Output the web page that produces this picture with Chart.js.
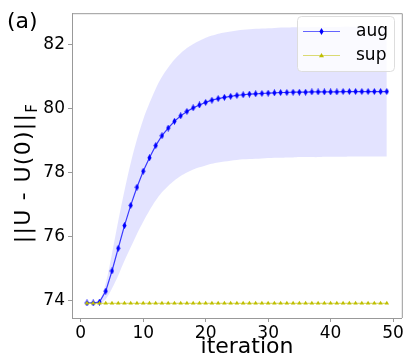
<!DOCTYPE html>
<html>
<head>
<meta charset="utf-8">
<script src="https://cdn.jsdelivr.net/npm/chart.js@4/dist/chart.umd.min.js"></script>
<style>
html,body{margin:0;padding:0;background:#fff;}
#wrap{width:407px;height:358px;position:relative;}
</style>
</head>
<body>
<div id="wrap"><canvas id="c" width="407" height="358"></canvas></div>
<script>
const iterations = [1,2,3,4,5,6,7,8,9,10,11,12,13,14,15,16,17,18,19,20,21,22,23,24,25,26,27,28,29,30,31,32,33,34,35,36,37,38,39,40,41,42,43,44,45,46,47,48,49];
const augMean = [73.92,73.92,73.95,74.29,74.92,75.63,76.34,76.97,77.54,78.04,78.46,78.84,79.15,79.39,79.60,79.77,79.91,80.02,80.11,80.19,80.26,80.31,80.35,80.38,80.41,80.43,80.45,80.46,80.47,80.48,80.49,80.50,80.50,80.51,80.51,80.51,80.52,80.52,80.52,80.52,80.52,80.53,80.53,80.53,80.53,80.53,80.53,80.53,80.53];
const augUpper = [73.92,73.93,74.00,74.54,75.47,76.48,77.44,78.30,79.04,79.66,80.17,80.62,80.99,81.28,81.53,81.73,81.89,82.02,82.12,82.21,82.28,82.34,82.38,82.41,82.44,82.46,82.48,82.49,82.50,82.51,82.52,82.53,82.53,82.54,82.54,82.54,82.55,82.55,82.55,82.55,82.55,82.56,82.56,82.56,82.56,82.56,82.56,82.56,82.56];
const augLower = [73.92,73.91,73.90,74.04,74.37,74.78,75.24,75.66,76.08,76.46,76.81,77.12,77.38,77.58,77.75,77.89,78.00,78.09,78.16,78.22,78.27,78.31,78.34,78.37,78.39,78.41,78.42,78.43,78.44,78.45,78.46,78.46,78.47,78.47,78.48,78.48,78.48,78.48,78.49,78.49,78.49,78.49,78.50,78.50,78.50,78.50,78.50,78.50,78.50];
const supValues = [73.91,73.91,73.91,73.91,73.91,73.91,73.91,73.91,73.91,73.91,73.91,73.91,73.91,73.91,73.91,73.91,73.91,73.91,73.91,73.91,73.91,73.91,73.91,73.91,73.91,73.91,73.91,73.91,73.91,73.91,73.91,73.91,73.91,73.91,73.91,73.91,73.91,73.91,73.91,73.91,73.91,73.91,73.91,73.91,73.91,73.91,73.91,73.91,73.91];
const xTicks = [0,10,20,30,40,50];
const yTicks = [74,76,78,80,82];
const seriesNames = ['aug','sup'];

const FONT = "'DejaVu Sans', sans-serif";
const BLUE = '#0000ff';
const YEL = '#bfbf00';

function thinDiamond(color){
  const c = document.createElement('canvas');
  c.width = 5; c.height = 7;
  const g = c.getContext('2d');
  g.fillStyle = color;
  g.beginPath();
  g.moveTo(2.5,0); g.lineTo(4.6,3.5); g.lineTo(2.5,7); g.lineTo(0.4,3.5); g.closePath();
  g.fill();
  return c;
}
const diamond = thinDiamond(BLUE);

function pts(ys){ return iterations.map((x,i)=>({x:x,y:ys[i]})); }

const deco = {
  id:'deco',
  afterDraw(chart){
    const ctx = chart.ctx, a = chart.chartArea;
    ctx.save();
    ctx.strokeStyle = '#999'; ctx.lineWidth = 1;
    ctx.beginPath();
    ctx.moveTo(a.left, a.top+0.5); ctx.lineTo(a.right+0.5, a.top+0.5); ctx.lineTo(a.right+0.5, a.bottom);
    ctx.stroke();
    ctx.fillStyle = '#000';
    ctx.font = '22px ' + FONT;
    ctx.textAlign = 'left'; ctx.textBaseline = 'middle';
    ctx.fillText('(a)', 7, 22);
    ctx.textAlign = 'center';
    ctx.font = '22px ' + FONT;
    ctx.fillText('iteration', 247, 347);
    ctx.save();
    ctx.translate(24, 178);
    ctx.rotate(-Math.PI/2);
    ctx.font = '22px ' + FONT;
    ctx.letterSpacing = '1.3px';
    const main = '||U - U(0)||';
    const w = ctx.measureText(main).width;
    ctx.textAlign = 'center'; ctx.textBaseline = 'middle';
    ctx.fillText(main, 0, 0);
    ctx.letterSpacing = '0px';
    ctx.font = '15px ' + FONT;
    ctx.textAlign = 'left';
    ctx.fillText('F', w/2 + 0, 9);
    ctx.restore();
    const lx = 297.5, ly = 16.5, lw = 97, lh = 55;
    ctx.beginPath();
    ctx.roundRect(lx, ly, lw, lh, 4);
    ctx.fillStyle = 'rgba(255,255,255,0.8)';
    ctx.fill();
    ctx.strokeStyle = '#dddddd';
    ctx.stroke();
    const items = [
      {name: seriesNames[0], color: 'rgba(0,0,255,0.6)', mk: 'd', y: 31.5},
      {name: seriesNames[1], color: 'rgba(191,191,0,0.55)', mk: 't', y: 55.5}
    ];
    items.forEach(it=>{
      ctx.strokeStyle = it.color; ctx.lineWidth = 1.2;
      ctx.beginPath(); ctx.moveTo(303, it.y); ctx.lineTo(340, it.y); ctx.stroke();
      if (it.mk === 'd') {
        ctx.drawImage(diamond, 321.5-2.5, it.y-3.5);
      } else {
        ctx.fillStyle = YEL;
        ctx.beginPath(); ctx.moveTo(321.5, it.y-2.6); ctx.lineTo(324, it.y+1.8); ctx.lineTo(319, it.y+1.8); ctx.closePath(); ctx.fill();
      }
      ctx.fillStyle = '#000';
      ctx.font = '17px ' + FONT;
      ctx.textAlign = 'left'; ctx.textBaseline = 'middle';
      ctx.fillText(it.name, 356, it.y);
    });
    ctx.restore();
  }
};

new Chart(document.getElementById('c'), {
  type: 'line',
  data: {
    datasets: [
      {label:'sup', data: pts(supValues), borderColor: 'rgba(191,191,0,0.7)', borderWidth: 1, pointStyle: 'triangle', pointRadius: 2.6, pointBackgroundColor: YEL, pointBorderColor: YEL, pointBorderWidth: 0, fill: false, tension: 0, order: 0},
      {label:'aug', data: pts(augMean), borderColor: 'rgba(0,0,255,0.75)', borderWidth: 1.2, pointStyle: diamond, pointRadius: 3, fill: false, tension: 0, order: 1},
      {label:'upper', data: pts(augUpper), borderWidth: 0, borderColor: 'rgba(0,0,0,0)', pointRadius: 0, fill: '+1', backgroundColor: 'rgba(0,0,255,0.11)', tension: 0.3, order: 3},
      {label:'lower', data: pts(augLower), borderWidth: 0, borderColor: 'rgba(0,0,0,0)', pointRadius: 0, fill: false, tension: 0.3, order: 4}
    ]
  },
  options: {
    responsive: false,
    animation: false,
    events: [],
    layout: {padding: {left: 0, right: 3, top: 8, bottom: 0}},
    plugins: {legend: {display: false}, tooltip: {enabled: false}, filler: {propagate: false}},
    scales: {
      x: {
        type: 'linear', min: -1.4, max: 51.4,
        afterBuildTicks: s => { s.ticks = xTicks.map(v=>({value:v})); },
        afterFit: s => { s.height = 40; },
        grid: {display: true, drawOnChartArea: false, drawTicks: true, tickLength: 4, color: '#999'},
        border: {display: true, color: '#999'},
        ticks: {color: '#000', font: {family: FONT, size: 17}, padding: 1, maxRotation: 0, callback: v => String(v)}
      },
      y: {
        type: 'linear', min: 73.45, max: 82.98,
        afterBuildTicks: s => { s.ticks = yTicks.map(v=>({value:v})); },
        afterFit: s => { s.width = 72; },
        grid: {display: true, drawOnChartArea: false, drawTicks: true, tickLength: 4, color: '#999'},
        border: {display: true, color: '#999'},
        ticks: {color: '#000', font: {family: FONT, size: 17}, padding: 3, callback: v => String(v)}
      }
    }
  },
  plugins: [deco]
});
</script>
</body>
</html>
